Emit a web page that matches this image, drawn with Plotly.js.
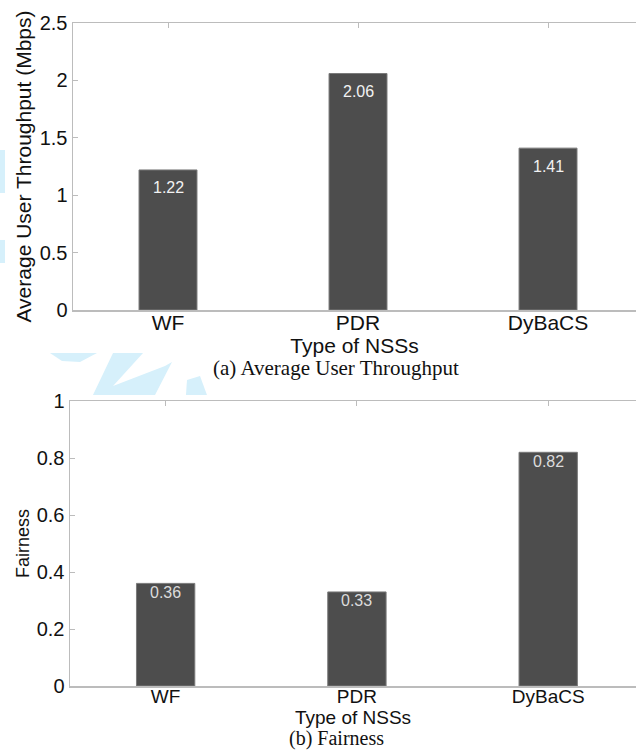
<!DOCTYPE html>
<html>
<head>
<meta charset="utf-8">
<script src="https://cdn.plot.ly/plotly-3.0.1.min.js"></script>
<style>
html,body{margin:0;padding:0;background:#fff;}
#chart{width:636px;height:752px;}
</style>
</head>
<body>
<div id="chart"></div>
<script>
// ---- data ----
const categories = ["WF", "PDR", "DyBaCS"];
const throughputValues = [1.22, 2.06, 1.41];
const throughputLabels = ["1.22", "2.06", "1.41"];
const fairnessValues = [0.36, 0.33, 0.82];
const fairnessLabels = ["0.36", "0.33", "0.82"];
const throughputTicks = [0, 0.5, 1, 1.5, 2, 2.5];
const throughputTickText = ["0", "0.5", "1", "1.5", "2", "2.5"];
const fairnessTicks = [0, 0.2, 0.4, 0.6, 0.8, 1];
const fairnessTickText = ["0", "0.2", "0.4", "0.6", "0.8", "1"];
const captionA = "(a) Average User Throughput";
const captionB = "(b) Fairness";

const xpos = categories.map((c, i) => i + 1);
const barColor = "#4d4d4d";
const axisColor = "#bcbcbc";
const sans = "Liberation Sans, Arial, sans-serif";
const serif = "Liberation Serif, Times New Roman, serif";

const traces = [
  {type: "bar", x: xpos, y: throughputValues, width: 0.305,
   marker: {color: barColor, line: {color: "#7a7a7a", width: 1}},
   xaxis: "x", yaxis: "y", hoverinfo: "skip"},
  {type: "bar", x: xpos, y: fairnessValues, width: 0.305,
   marker: {color: barColor, line: {color: "#7a7a7a", width: 1}},
   xaxis: "x2", yaxis: "y2", hoverinfo: "skip"}
];

const annotations = [];
throughputValues.forEach((v, i) => annotations.push({
  x: xpos[i], y: v, xref: "x", yref: "y", text: throughputLabels[i],
  showarrow: false, yanchor: "middle", yshift: -18,
  font: {family: sans, size: 16, color: "#f2f2f2"}
}));
fairnessValues.forEach((v, i) => annotations.push({
  x: xpos[i], y: v, xref: "x2", yref: "y2", text: fairnessLabels[i],
  showarrow: false, yanchor: "middle", yshift: -9,
  font: {family: sans, size: 16, color: "#dcdcdc"}
}));
annotations.push({x: 0.47, y: 1 - 368/752, xref: "paper", yref: "paper",
  text: captionA, showarrow: false, xanchor: "center", yanchor: "middle",
  font: {family: serif, size: 21, color: "#111"}});
annotations.push({x: 0.47, y: 1 - 738/752, xref: "paper", yref: "paper",
  text: captionB, showarrow: false, xanchor: "center", yanchor: "middle",
  font: {family: serif, size: 20, color: "#111"}});

// light watermark fragments (outside the plot areas)
const wm = "#d6f0fb";
function px2(xp, yp) { // pixel -> paper coords
  return ((xp - 70) / 566).toFixed(4) + "," + (1 - yp / 752).toFixed(4);
}
function poly(pts) {
  return "M " + pts.map(p => px2(p[0], p[1])).join(" L ") + " Z";
}
const shapes = [
  [[0,150],[5,150],[5,193],[0,193]],
  [[0,240],[5,240],[5,263],[0,263]],
  [[50,353],[97,353],[80,362],[62,361]],
  [[113,353],[143,353],[113,386],[165,366],[172,362],[155,395],[93,395]],
  [[187,380],[200,376],[207,395],[186,395]]
].map(p => ({type: "path", xref: "paper", yref: "paper", layer: "below",
  fillcolor: wm, line: {width: 0}, path: poly(p)}));

const commonX = {
  tickmode: "array", tickvals: xpos, ticktext: categories,
  showline: true, linecolor: axisColor, linewidth: 1.5, mirror: "ticks",
  ticks: "inside", ticklen: 5, tickcolor: axisColor, tickwidth: 1,
  showgrid: false, zeroline: false, layer: "below traces", fixedrange: true
};
const commonY = {
  tickmode: "array", showline: true, linecolor: axisColor, linewidth: 1.5,
  ticks: "inside", ticklen: 5, tickcolor: axisColor, tickwidth: 1,
  showgrid: false, zeroline: false, fixedrange: true
};

const layout = {
  width: 636, height: 752,
  margin: {l: 70, r: 0, t: 0, b: 0, pad: 0},
  paper_bgcolor: "#ffffff", plot_bgcolor: "#ffffff",
  showlegend: false, bargap: 0,
  xaxis: Object.assign({}, commonX, {
    domain: [3/566, 1], range: [0.5, 3.463], anchor: "y",
    tickfont: {family: sans, size: 21, color: "#111"}, ticklabelstandoff: -7,
    title: {text: "Type of NSSs", standoff: 0, font: {family: sans, size: 21, color: "#111"}}
  }),
  yaxis: Object.assign({}, commonY, {
    domain: [1 - 310/752, 1 - 23/752], range: [0, 2.5], anchor: "x",
    tickvals: throughputTicks, ticktext: throughputTickText,
    tickfont: {family: sans, size: 20, color: "#111"},
    title: {text: "Average User Throughput (Mbps)", standoff: 2, font: {family: sans, size: 21, color: "#111"}}
  }),
  xaxis2: Object.assign({}, commonX, {
    domain: [0, 1], range: [0.5, 3.459], anchor: "y2",
    tickfont: {family: sans, size: 19, color: "#111"}, ticklabelstandoff: -7,
    title: {text: "Type of NSSs", standoff: 0, font: {family: sans, size: 19, color: "#111"}}
  }),
  yaxis2: Object.assign({}, commonY, {
    domain: [1 - 686/752, 1 - 401/752], range: [0, 1], anchor: "x2",
    tickvals: fairnessTicks, ticktext: fairnessTickText,
    tickfont: {family: sans, size: 20, color: "#111"},
    title: {text: "Fairness", standoff: 2, font: {family: sans, size: 18, color: "#111"}}
  }),
  annotations: annotations,
  shapes: shapes
};

Plotly.newPlot("chart", traces, layout, {displayModeBar: false, staticPlot: true});
</script>
</body>
</html>
